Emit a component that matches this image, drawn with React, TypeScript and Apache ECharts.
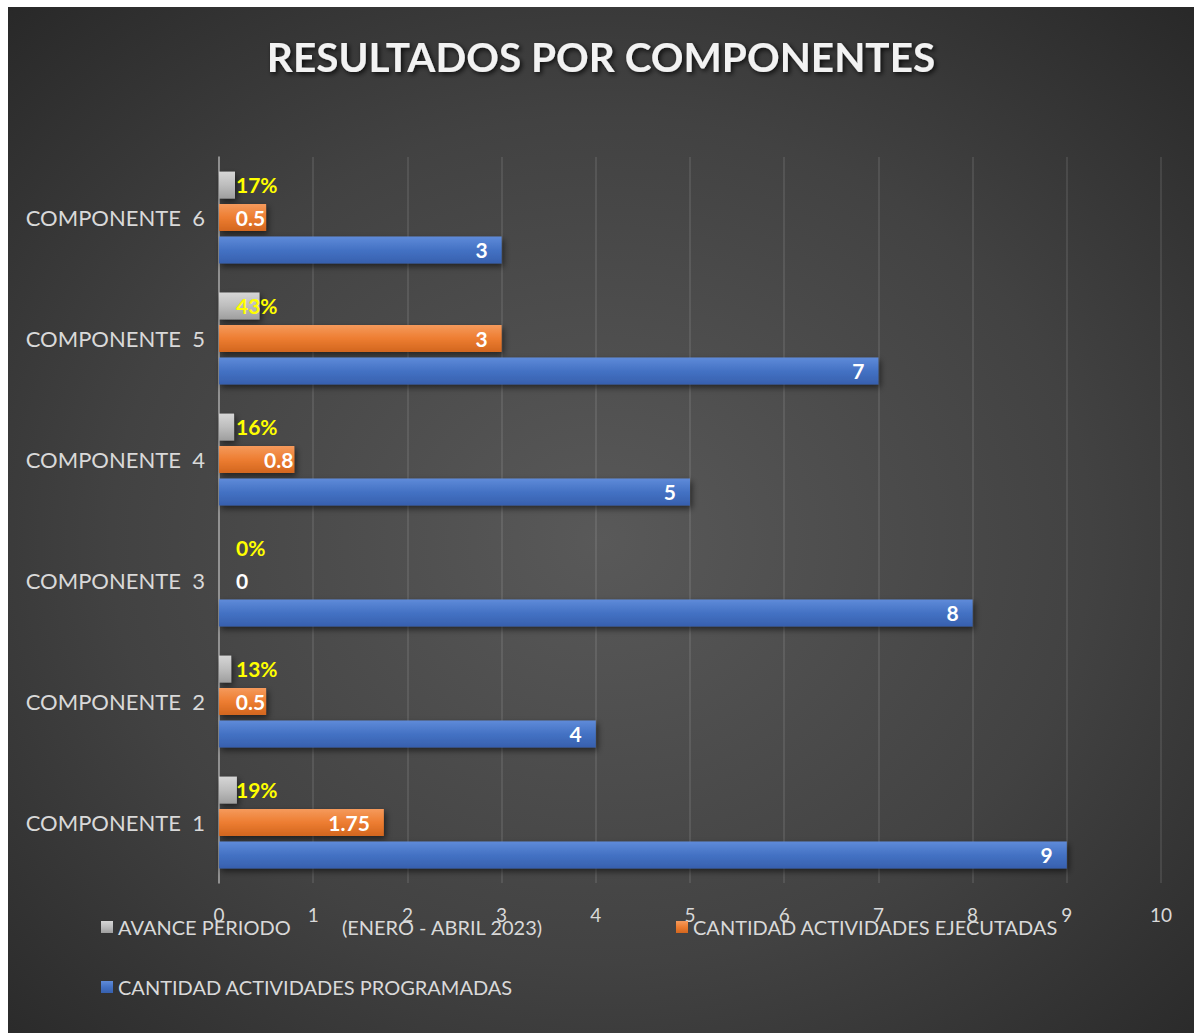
import React, { useEffect, useRef } from "react";
import * as echarts from "echarts";

const categories = [
  "COMPONENTE\u00a0\u00a01",
  "COMPONENTE\u00a0\u00a02",
  "COMPONENTE\u00a0\u00a03",
  "COMPONENTE\u00a0\u00a04",
  "COMPONENTE\u00a0\u00a05",
  "COMPONENTE\u00a0\u00a06",
];
const avance = [0.19, 0.13, 0, 0.16, 0.43, 0.17];
const ejecutadas = [1.75, 0.5, 0, 0.8, 3, 0.5];
const programadas = [9, 4, 8, 5, 7, 3];
const xTicks = [0, 10, 1];

const NAME_AVANCE = "AVANCE PERIODO\u00a0\u00a0\u00a0\u00a0\u00a0\u00a0\u00a0\u00a0\u00a0\u00a0(ENERO - ABRIL 2023)";
const NAME_EJEC = "CANTIDAD ACTIVIDADES EJECUTADAS";
const NAME_PROG = "CANTIDAD ACTIVIDADES PROGRAMADAS";

const FONT = "Lato, 'Open Sans', sans-serif";

function vgrad(a: string, b: string, c: string) {
  return new echarts.graphic.LinearGradient(0, 0, 0, 1, [
    { offset: 0, color: a },
    { offset: 0.5, color: b },
    { offset: 1, color: c },
  ]);
}

const shadow = {
  shadowColor: "rgba(0,0,0,0.55)",
  shadowBlur: 6,
  shadowOffsetX: 2,
  shadowOffsetY: 3,
};

const legendText = { color: "#d9d9d9", fontSize: 20, fontFamily: FONT };

export default function App() {
  const ref = useRef<HTMLDivElement>(null);
  useEffect(() => {
    if (!ref.current) return;
    const chart = echarts.init(ref.current, null, { renderer: "svg" });
    const valueLabel = {
      show: true,
      position: "insideRight",
      distance: 14,
      color: "#ffffff",
      fontWeight: "bold",
      fontSize: 21,
      fontFamily: FONT,
    };
    chart.setOption({
      animation: false,
      backgroundColor: new echarts.graphic.RadialGradient(0.5, 0.52, 0.75, [
        { offset: 0, color: "#595959" },
        { offset: 0.55, color: "#424242" },
        { offset: 1, color: "#262626" },
      ]),
      title: {
        text: "RESULTADOS POR COMPONENTES",
        left: "center",
        top: 24,
        textStyle: {
          color: "#f2f2f2",
          fontFamily: FONT,
          fontWeight: "bold",
          fontSize: 40.5,
          textShadowColor: "rgba(0,0,0,0.8)",
          textShadowBlur: 5,
          textShadowOffsetX: 2,
          textShadowOffsetY: 2,
        },
      },
      legend: [
        {
          data: [NAME_AVANCE],
          left: 88,
          top: 905,
          itemWidth: 12,
          itemHeight: 12,
          icon: "rect",
          textStyle: legendText,
        },
        {
          data: [NAME_EJEC],
          left: 663,
          top: 905,
          itemWidth: 12,
          itemHeight: 12,
          icon: "rect",
          textStyle: legendText,
        },
        {
          data: [NAME_PROG],
          left: 88,
          top: 965,
          itemWidth: 12,
          itemHeight: 12,
          icon: "rect",
          textStyle: legendText,
        },
      ],
      grid: { left: 211, right: 33, top: 150, bottom: 150, containLabel: false },
      xAxis: {
        type: "value",
        min: xTicks[0],
        max: xTicks[1],
        interval: xTicks[2],
        axisLine: { show: false },
        axisTick: { show: false },
        splitLine: { show: true, lineStyle: { color: "rgba(255,255,255,0.13)", width: 1.5 } },
        axisLabel: { color: "#d9d9d9", fontSize: 19, fontFamily: FONT, margin: 22 },
      },
      yAxis: {
        type: "category",
        data: categories,
        axisTick: { show: false },
        axisLine: { show: true, lineStyle: { color: "#a6a6a6", width: 1.5 } },
        axisLabel: { color: "#d9d9d9", fontSize: 22, fontFamily: FONT, margin: 14 },
      },
      series: [
        {
          name: NAME_AVANCE,
          type: "bar",
          barWidth: 27,
          barGap: "20%",
          data: avance,
          itemStyle: { color: vgrad("#d6d6d6", "#bdbdbd", "#9e9e9e"), ...shadow },
          label: {
            show: true,
            position: [17, 13],
            align: "left",
            verticalAlign: "middle",
            color: "#ffff00",
            fontWeight: "bold",
            fontSize: 21,
            fontFamily: FONT,
            formatter: (p: any) => `${Math.round(p.value * 100)}%`,
          },
        },
        {
          name: NAME_EJEC,
          type: "bar",
          barWidth: 27,
          barGap: "20%",
          data: ejecutadas.map((v) =>
            v === 0
              ? { value: v, label: { position: [17, 13], align: "left", verticalAlign: "middle" } }
              : v < 1
              ? { value: v, label: { distance: 1 } }
              : v
          ),
          itemStyle: { color: vgrad("#f59a5c", "#ed7d31", "#d2661f"), ...shadow },
          label: valueLabel,
        },
        {
          name: NAME_PROG,
          type: "bar",
          barWidth: 27,
          barGap: "20%",
          data: programadas,
          itemStyle: { color: vgrad("#5f8bd9", "#4472c4", "#3760ae"), ...shadow },
          label: valueLabel,
        },
      ],
    });
    return () => chart.dispose();
  }, []);
  return (
    <div
      ref={ref}
      style={{ position: "absolute", left: 8, top: 7, width: 1186, height: 1026 }}
    />
  );
}
